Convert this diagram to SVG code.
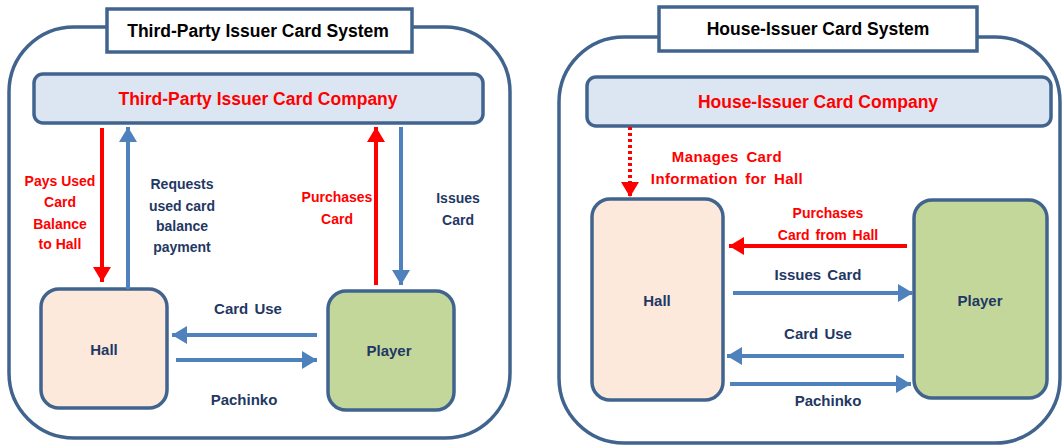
<svg xmlns="http://www.w3.org/2000/svg" width="1063" height="446" viewBox="0 0 1063 446">
<style>
.frame{fill:#fff;stroke:#41648f;stroke-width:3.5}
.title{fill:#fff;stroke:#41648f;stroke-width:3.5}
.company{fill:#dce6f2;stroke:#41648f;stroke-width:3.5}
.hall{fill:#fce9db;stroke:#41648f;stroke-width:3.5}
.player{fill:#c4d79b;stroke:#41648f;stroke-width:3.5}
text{font-family:"Liberation Sans","DejaVu Sans",sans-serif;font-weight:bold;text-anchor:middle}
.tt{font-size:17.5px;fill:#000}
.ct{font-size:17.5px;fill:#ff0000}
.nt{font-size:15px;fill:#1f3864}
.rl{font-size:14px;fill:#ff0000}
.bl{font-size:14px;fill:#1f3864}
.hl{font-size:15px;fill:#1f3864;word-spacing:2px}
.rw{font-size:15px;fill:#ff0000;word-spacing:3px;letter-spacing:0.4px}
.ab{stroke:#4f81bd;stroke-width:4;fill:none}
.ar{stroke:#ff0000;stroke-width:4;fill:none}
.ad{stroke:#ff0000;stroke-width:4;fill:none;stroke-dasharray:3 3}
</style>
<defs>
<marker id="hb" markerUnits="userSpaceOnUse" markerWidth="16" markerHeight="18" refX="15" refY="9" orient="auto"><path d="M0,0 L15,9 L0,18 z" fill="#4f81bd"/></marker>
<marker id="hr" markerUnits="userSpaceOnUse" markerWidth="16" markerHeight="18" refX="15" refY="9" orient="auto"><path d="M0,0 L15,9 L0,18 z" fill="#ff0000"/></marker>
</defs>
<rect width="1063" height="446" fill="#fff"/>

<g id="left-system">
<rect class="frame" x="9" y="27" width="501" height="411" rx="65"/>
</g>
<g id="left-title">
<rect class="title" x="107" y="9" width="305" height="43"/>
<text class="tt" x="258" y="37">Third-Party Issuer Card System</text>
</g>
<g id="left-company">
<rect class="company" x="34" y="74" width="449" height="49" rx="9"/>
<text class="ct" x="258" y="105">Third-Party Issuer Card Company</text>
</g>
<g id="left-hall">
<rect class="hall" x="41" y="289" width="126" height="119" rx="18"/>
<text class="nt" x="104" y="355">Hall</text>
</g>
<g id="left-player">
<rect class="player" x="328" y="291" width="126" height="119" rx="18"/>
<text class="nt" x="389" y="356">Player</text>
</g>

<g id="right-system">
<rect class="frame" x="559" y="37" width="501" height="406" rx="65"/>
</g>
<g id="right-title">
<rect class="title" x="659" y="7" width="318" height="44"/>
<text class="tt" x="818" y="35">House-Issuer Card System</text>
</g>
<g id="right-company">
<rect class="company" x="587" y="77" width="464" height="49" rx="9"/>
<text class="ct" x="818" y="108">House-Issuer Card Company</text>
</g>
<g id="right-hall">
<rect class="hall" x="592" y="199" width="131" height="201" rx="18"/>
<text class="nt" x="657" y="306">Hall</text>
</g>
<g id="right-player">
<rect class="player" x="914" y="200" width="133" height="198" rx="18"/>
<text class="nt" x="980" y="306">Player</text>
</g>

<g id="connectors">
<line class="ar" x1="102" y1="128" x2="102" y2="282" marker-end="url(#hr)"/>
<line class="ab" x1="128" y1="289" x2="128" y2="127" marker-end="url(#hb)"/>
<line class="ar" x1="376" y1="285" x2="376" y2="127" marker-end="url(#hr)"/>
<line class="ab" x1="401" y1="127" x2="401" y2="285" marker-end="url(#hb)"/>
<line class="ab" x1="317" y1="335" x2="172" y2="335" marker-end="url(#hb)"/>
<line class="ab" x1="176" y1="360" x2="317" y2="360" marker-end="url(#hb)"/>

<line class="ad" x1="630" y1="127" x2="630" y2="197" marker-end="url(#hr)"/>
<line class="ar" x1="907" y1="246" x2="729" y2="246" marker-end="url(#hr)"/>
<line class="ab" x1="733" y1="293" x2="913" y2="293" marker-end="url(#hb)"/>
<line class="ab" x1="904" y1="356" x2="727" y2="356" marker-end="url(#hb)"/>
<line class="ab" x1="730" y1="384" x2="911" y2="384" marker-end="url(#hb)"/>
</g>

<g id="labels">
<text class="rl" x="60" y="186">Pays Used</text>
<text class="rl" x="60" y="207">Card</text>
<text class="rl" x="60" y="229">Balance</text>
<text class="rl" x="60" y="249">to Hall</text>
<text class="bl" x="182" y="189">Requests</text>
<text class="bl" x="182" y="211">used card</text>
<text class="bl" x="182" y="231">balance</text>
<text class="bl" x="182" y="252">payment</text>
<text class="rl" x="337" y="202">Purchases</text>
<text class="rl" x="337" y="224">Card</text>
<text class="bl" x="458" y="203">Issues</text>
<text class="bl" x="458" y="225">Card</text>
<text class="hl" x="248" y="314">Card Use</text>
<text class="hl" x="244" y="405">Pachinko</text>

<text class="rw" x="727" y="162">Manages Card</text>
<text class="rw" x="727" y="184">Information for Hall</text>
<text class="rl" x="828" y="218">Purchases</text>
<text class="rl" x="828" y="240" style="word-spacing:2px">Card from Hall</text>
<text class="hl" x="818" y="280">Issues Card</text>
<text class="hl" x="818" y="339">Card Use</text>
<text class="hl" x="828" y="406">Pachinko</text>
</g>
</svg>
